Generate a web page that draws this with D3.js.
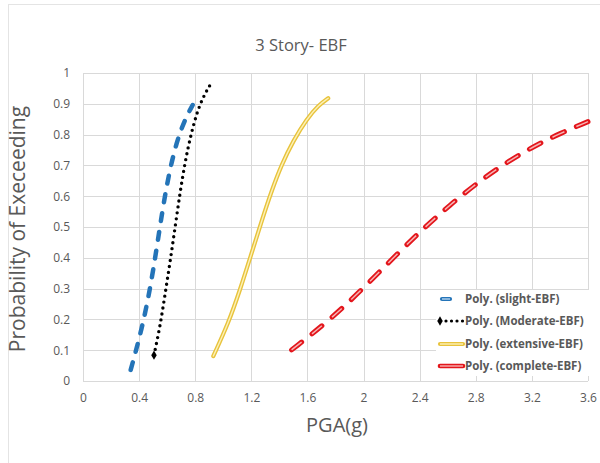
<!DOCTYPE html>
<html>
<head>
<meta charset="utf-8">
<script src="https://cdn.jsdelivr.net/npm/d3@7"></script>
<style>
  html, body { margin: 0; padding: 0; background: #fff; }
  svg { display: block; font-family: "Open Sans", "Liberation Sans", sans-serif; }
</style>
</head>
<body>
<svg id="chart" width="600" height="463"></svg>
<script>
// Fragility curves, 3-story EBF: probability of exceeding each damage state vs PGA
const chartTitle = "3 Story- EBF";
const xTitle = "PGA(g)";
const yTitle = "Probability of Execeeding";

const xTicks = [0, 0.4, 0.8, 1.2, 1.6, 2, 2.4, 2.8, 3.2, 3.6];
const yTicks = [0, 0.1, 0.2, 0.3, 0.4, 0.5, 0.6, 0.7, 0.8, 0.9, 1];

const seriesNames = ["Poly. (slight-EBF)", "Poly. (Moderate-EBF)", "Poly. (extensive-EBF)", "Poly. (complete-EBF)"];

// [PGA (g), probability]
const slight = [
  [0.340, 0.036], [0.418, 0.166], [0.477, 0.295], [0.525, 0.430], [0.565, 0.550],
  [0.610, 0.668], [0.666, 0.775], [0.727, 0.850], [0.782, 0.896]
];
const moderate = [
  [0.506, 0.084], [0.549, 0.176], [0.586, 0.285], [0.623, 0.393], [0.657, 0.501],
  [0.691, 0.609], [0.726, 0.707], [0.765, 0.792], [0.810, 0.869], [0.857, 0.923], [0.910, 0.964]
];
const extensive = [
  [0.929, 0.081], [1.036, 0.187], [1.119, 0.295], [1.202, 0.415], [1.274, 0.520],
  [1.345, 0.618], [1.416, 0.703], [1.499, 0.780], [1.594, 0.850], [1.677, 0.895], [1.748, 0.918]
];
const complete = [
  [1.487, 0.101], [1.760, 0.198], [1.998, 0.301], [2.212, 0.400], [2.414, 0.490],
  [2.616, 0.572], [2.830, 0.650], [3.020, 0.710], [3.210, 0.761], [3.400, 0.804], [3.600, 0.842]
];

const svg = d3.select("#chart");
const textColor = "#595959";
const gridColor = "#d9d9d9";

// outer chart frame
svg.append("rect").attr("x", 8.5).attr("y", 4.5).attr("width", 620).attr("height", 480)
  .attr("fill", "#fff").attr("stroke", "#e4e4e4").attr("stroke-width", 1);

const x = d3.scaleLinear().domain([0, 3.6]).range([83, 588]);
const y = d3.scaleLinear().domain([0, 1]).range([381, 73]);

// gridlines
const grid = svg.append("g");
grid.selectAll("line.h").data(yTicks).join("line")
  .attr("x1", x(0)).attr("x2", x(3.6))
  .attr("y1", d => Math.round(y(d)) + 0.5).attr("y2", d => Math.round(y(d)) + 0.5)
  .attr("stroke", gridColor).attr("stroke-width", 1);
grid.selectAll("line.v").data(xTicks).join("line")
  .attr("y1", y(0)).attr("y2", y(1))
  .attr("x1", d => Math.round(x(d)) + 0.5).attr("x2", d => Math.round(x(d)) + 0.5)
  .attr("stroke", gridColor).attr("stroke-width", 1);

// axes (labels only; lines come from the grid)
const xAxis = d3.axisBottom(x).tickValues(xTicks).tickSize(0).tickPadding(12).tickFormat(d3.format("~g"));
const yAxis = d3.axisLeft(y).tickValues(yTicks).tickSize(0).tickPadding(13).tickFormat(d3.format("~g"));
const gx = svg.append("g").attr("transform", `translate(0,${y(0)})`).call(xAxis);
const gy = svg.append("g").attr("transform", `translate(${x(0)},0)`).call(yAxis);
[gx, gy].forEach(g => {
  g.select(".domain").remove();
  g.selectAll("text").attr("fill", textColor).style("font-size", "12px")
    .style("font-family", "'Open Sans', sans-serif");
});

// titles
svg.append("text").attr("x", 301).attr("y", 51).attr("text-anchor", "middle")
  .attr("fill", textColor).style("font-size", "16.5px").text(chartTitle);
svg.append("text").attr("x", 337).attr("y", 432).attr("text-anchor", "middle")
  .attr("fill", textColor).style("font-size", "20px").text(xTitle);
svg.append("text").attr("transform", "translate(25,229) rotate(-90)").attr("text-anchor", "middle")
  .attr("fill", textColor).style("font-size", "21px").text(yTitle);

// smooth trend curves through the sampled points
const line = d3.line().x(d => x(d[0])).y(d => y(d[1])).curve(d3.curveBasis);
const plot = svg.append("g");

// slight: blue dashes
plot.append("path").attr("d", line(slight)).attr("fill", "none")
  .attr("stroke", "#2474b8").attr("stroke-width", 4.5)
  .attr("stroke-dasharray", "8,11").attr("stroke-linecap", "round");

// moderate: black dots with a diamond at the start
plot.append("path").attr("d", line(moderate)).attr("fill", "none")
  .attr("stroke", "#000").attr("stroke-width", 3.4)
  .attr("stroke-dasharray", "0,6").attr("stroke-linecap", "round");
plot.append("path").attr("d", d3.symbol(d3.symbolDiamond, 26)())
  .attr("transform", `translate(${x(moderate[0][0])},${y(moderate[0][1])})`).attr("fill", "#000");

// extensive: double gold line
plot.append("path").attr("d", line(extensive)).attr("fill", "none")
  .attr("stroke", "#e8c33c").attr("stroke-width", 4.2).attr("stroke-linecap", "round");
plot.append("path").attr("d", line(extensive)).attr("fill", "none")
  .attr("stroke", "#fcf1b8").attr("stroke-width", 1.4).attr("stroke-linecap", "round");

// complete: red outlined dashes
plot.append("path").attr("d", line(complete)).attr("fill", "none")
  .attr("stroke", "#e3161c").attr("stroke-width", 5)
  .attr("stroke-dasharray", "13,13").attr("stroke-linecap", "round");
plot.append("path").attr("d", line(complete)).attr("fill", "none")
  .attr("stroke", "#f6b4b4").attr("stroke-width", 1.5)
  .attr("stroke-dasharray", "13,13").attr("stroke-linecap", "butt");

// legend
const lg = svg.append("g");
lg.append("rect").attr("x", 436).attr("y", 290).attr("width", 156).attr("height", 86).attr("fill", "#fff");
const rowY = [299, 321, 344, 366];
lg.selectAll("text").data(seriesNames).join("text")
  .attr("x", 465).attr("y", (d, i) => rowY[i] + 4)
  .attr("fill", textColor).style("font-size", "11.5px").style("font-weight", "bold").text(d => d);

// slight sample: short outlined pill
lg.append("line").attr("x1", 442).attr("x2", 450).attr("y1", rowY[0]).attr("y2", rowY[0])
  .attr("stroke", "#2474b8").attr("stroke-width", 4.2).attr("stroke-linecap", "round");
lg.append("line").attr("x1", 442).attr("x2", 450).attr("y1", rowY[0]).attr("y2", rowY[0])
  .attr("stroke", "#b7d3ec").attr("stroke-width", 1.4);
// moderate sample: diamond + dots
lg.append("line").attr("x1", 446).attr("x2", 463).attr("y1", rowY[1]).attr("y2", rowY[1])
  .attr("stroke", "#000").attr("stroke-width", 3.2)
  .attr("stroke-dasharray", "0,5.5").attr("stroke-linecap", "round");
lg.append("path").attr("d", d3.symbol(d3.symbolDiamond, 26)())
  .attr("transform", `translate(440,${rowY[1]})`).attr("fill", "#000");
// extensive sample
lg.append("line").attr("x1", 440).attr("x2", 463).attr("y1", rowY[2]).attr("y2", rowY[2])
  .attr("stroke", "#e8c33c").attr("stroke-width", 4.2).attr("stroke-linecap", "round");
lg.append("line").attr("x1", 440).attr("x2", 463).attr("y1", rowY[2]).attr("y2", rowY[2])
  .attr("stroke", "#fcf1b8").attr("stroke-width", 1.4);
// complete sample
lg.append("line").attr("x1", 440).attr("x2", 463).attr("y1", rowY[3]).attr("y2", rowY[3])
  .attr("stroke", "#e3161c").attr("stroke-width", 4.6).attr("stroke-linecap", "round");
lg.append("line").attr("x1", 440).attr("x2", 463).attr("y1", rowY[3]).attr("y2", rowY[3])
  .attr("stroke", "#f6b4b4").attr("stroke-width", 1.4);
</script>
</body>
</html>
